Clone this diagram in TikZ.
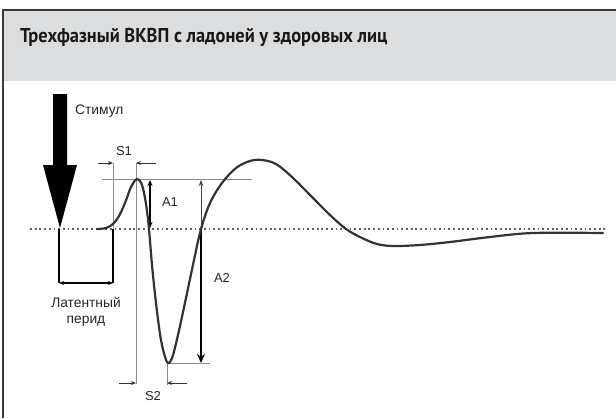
\documentclass[tikz,border=0pt]{standalone}
\usepackage{fontspec}
\setmainfont{Liberation Sans}
\newfontfamily\titlefont{PT Sans}
\usetikzlibrary{arrows.meta}
\definecolor{hdrgray}{HTML}{DCDDDF}
\definecolor{framegray}{HTML}{3A3A3A}
\definecolor{curvegray}{HTML}{333333}
\definecolor{thingray}{HTML}{8A8A8A}
\definecolor{dotgray}{HTML}{606060}
\tikzset{
  lbl/.style={font=\fontsize{13}{15}\selectfont, inner sep=0pt, text=black!85},
  cyrlbl/.style={font=\fontsize{13.8}{16}\selectfont, inner sep=0pt, text=black!85},
  thinref/.style={draw=thingray, line width=0.9pt},
  dimarrow/.style={draw=black!80, line width=0.8pt, -{Stealth[length=5pt,width=4pt]}},
  boldline/.style={draw=black, line width=2pt},
}
\begin{document}
\begin{tikzpicture}[x=1pt,y=-1pt]
\useasboundingbox (0,0) rectangle (616,418);
% header
\fill[hdrgray] (3,10) rectangle (616,81);
\draw[framegray, line width=1.6pt] (616,10) -- (3,10) -- (3,418);
\node[anchor=base west, inner sep=0pt, font=\titlefont\bfseries\fontsize{20}{22}\selectfont, text=black!90] (title) at (20,42) {\scalebox{0.92}[1]{Трехфазный ВКВП с ладоней у здоровых лиц}};

% coordinates
\coordinate (b0) at (30,229);
\coordinate (b1) at (605,229);
\coordinate (stimtip) at (59,229);
\coordinate (latL) at (59,283);
\coordinate (latR) at (113,283);
\coordinate (latRtop) at (113,229);
\coordinate (s1ref) at (113,163);
\coordinate (pkx) at (136,163);
\coordinate (pkxlow) at (136,384);
\coordinate (peakL) at (102,179);
\coordinate (peakR) at (252,179);
\coordinate (troughx) at (167,363);
\coordinate (troughR) at (210,363);
\coordinate (troughlow) at (167,385);

% baseline dotted
\draw[dotgray, line width=1.5pt, dash pattern=on 1.8pt off 2.9pt] (b0) -- (b1);

% stimulus arrow
\fill[black] (53,94) -- (67,94) -- (67,165) -- (77,165) -- (60,228) -- (43,165) -- (53,165) -- cycle;
\node[cyrlbl, anchor=base west] (stim) at (75,114) {Стимул};

% latency bracket
\draw[boldline] (stimtip) -- (latL);
\draw[boldline] (latRtop) -- (latR);
\draw[black, line width=1.1pt, {Stealth[length=5pt,width=4pt]}-{Stealth[length=5pt,width=4pt]}] (latL) -- (latR);
\node[cyrlbl, anchor=base] (lat1) at (86,307) {Латентный};
\node[cyrlbl, anchor=base] (lat2) at (86,323) {перид};

% reference lines
\draw[thinref] (s1ref) -- (latRtop);
\draw[thinref] (pkx) -- (pkxlow);
\draw[thinref] (peakL) -- (peakR);
\draw[thinref] (troughx) -- (troughR);
\draw[thinref] (troughx) -- (troughlow);

% S1
\coordinate (s1a) at (98,163);
\coordinate (s1b) at (156,163);
\draw[dimarrow] (s1a) -- (s1ref);
\draw[dimarrow] (s1b) -- (pkx);
\node[lbl, anchor=base] (S1) at (124,155) {S1};

% S2
\coordinate (s2L) at (136,383);
\coordinate (s2R) at (167,383);
\coordinate (s2a) at (119,383);
\coordinate (s2b) at (187,383);
\draw[dimarrow] (s2a) -- (s2L);
\draw[dimarrow] (s2b) -- (s2R);
\node[lbl, anchor=base] (S2) at (153,400) {S2};

% A1
\coordinate (a1t) at (150,180);
\coordinate (a1b) at (150,228);
\draw[black, line width=1.3pt, {Stealth[length=6pt,width=5pt]}-{Stealth[length=6pt,width=5pt]}] (a1b) -- (a1t);
\node[lbl, anchor=base] (A1) at (170,206) {A1};

% A2
\coordinate (a2t) at (201,180);
\coordinate (a2m) at (201,229);
\coordinate (a2b) at (201,363);
\draw[draw=black!75, line width=0.9pt, -{Stealth[length=6pt,width=4.5pt]}] (a2m) -- (a2t);
\draw[black, line width=2pt, -{Stealth[length=9pt,width=8pt]}] (a2m) -- (a2b);
\node[lbl, anchor=base] (A2) at (222,282) {A2};

% response curve
\draw[curvegray, line width=2.2pt, line cap=round, line join=round] plot[smooth, tension=0.55] coordinates {
(97,229) (106,228) (113,224) (119,216) (125,203) (131,187) (137,179) (142,185) (146,204) (149,229) (152,265) (156,303) (161,340) (167,362) (172,358) (178,335) (186,298) (194,260) (201,229) (210,203) (222,183) (236,168) (250,161) (262,160) (276,164) (292,177) (312,197) (330,215) (346,229) (362,238) (377,244) (393,246) (420,245) (450,242) (490,237) (533,233) (603,233)};
\end{tikzpicture}
\end{document}
